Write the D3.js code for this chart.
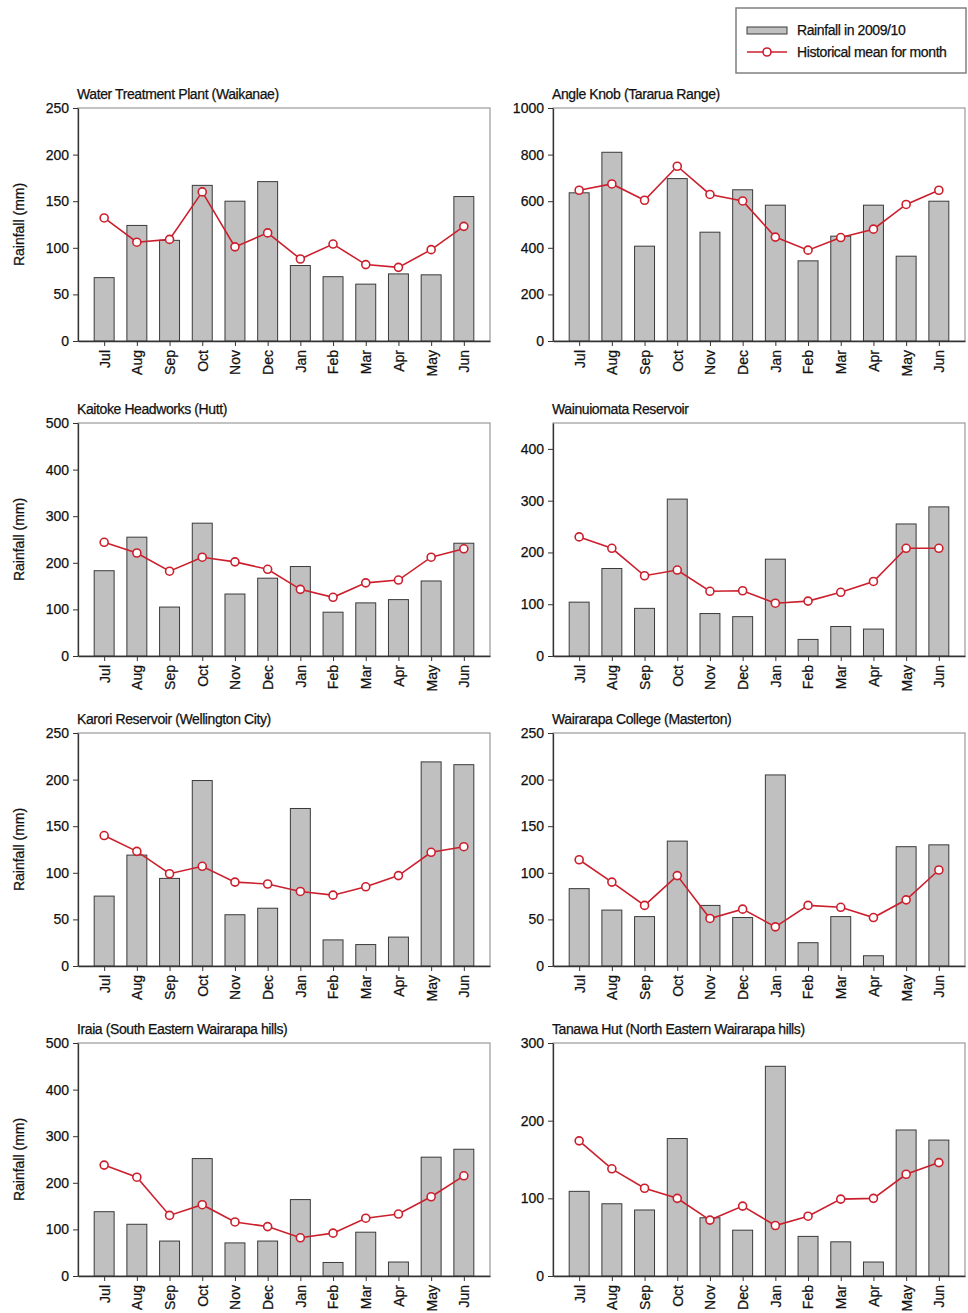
<!DOCTYPE html>
<html>
<head>
<meta charset="utf-8">
<script src="https://cdn.jsdelivr.net/npm/d3@7"></script>
<style>
  body { margin: 0; background: #fff; }
  text { font-family: "Liberation Sans", Arial, sans-serif; fill: #111; stroke: #111; stroke-width: 0.25px; }
</style>
</head>
<body>
<div id="chart"></div>
<script>
var months = ["Jul", "Aug", "Sep", "Oct", "Nov", "Dec", "Jan", "Feb", "Mar", "Apr", "May", "Jun"];

var stations = [
    "Water Treatment Plant (Waikanae)",
    "Angle Knob (Tararua Range)",
    "Kaitoke Headworks (Hutt)",
    "Wainuiomata Reservoir",
    "Karori Reservoir (Wellington City)",
    "Wairarapa College (Masterton)",
    "Iraia (South Eastern Wairarapa hills)",
    "Tanawa Hut (North Eastern Wairarapa hills)"
];

// y axis top and tick step for each panel
var yMax  = [250, 1000, 500, 450, 250, 250, 500, 300];
var yStep = [50, 200, 100, 100, 50, 50, 100, 100];

// Rainfall in 2009/10 (mm)
var rainWaikanae    = [68, 124, 108, 167, 150, 171, 81, 69, 61, 72, 71, 155];
var rainAngleKnob   = [636, 810, 407, 697, 467, 649, 583, 344, 450, 583, 364, 600];
var rainKaitoke     = [183, 255, 105, 285, 133, 167, 192, 94, 114, 121, 161, 242];
var rainWainuiomata = [104, 169, 92, 303, 82, 76, 187, 32, 57, 52, 255, 288];
var rainKarori      = [75, 119, 94, 199, 55, 62, 169, 28, 23, 31, 219, 216];
var rainMasterton   = [83, 60, 53, 134, 65, 52, 205, 25, 53, 11, 128, 130];
var rainIraia       = [138, 111, 75, 252, 71, 75, 164, 29, 94, 30, 255, 272];
var rainTanawa      = [109, 93, 85, 177, 75, 59, 270, 51, 44, 18, 188, 175];

// Historical mean for month (mm)
var meanWaikanae    = [132, 106, 109, 160, 101, 116, 88, 104, 82, 79, 98, 123];
var meanAngleKnob   = [647, 674, 604, 750, 629, 601, 446, 390, 444, 480, 586, 647];
var meanKaitoke     = [244, 221, 182, 212, 202, 186, 143, 126, 157, 163, 212, 230];
var meanWainuiomata = [230, 208, 155, 166, 125, 126, 102, 106, 123, 144, 208, 208];
var meanKarori      = [140, 123, 99, 107, 90, 88, 80, 76, 85, 97, 122, 128];
var meanMasterton   = [114, 90, 65, 97, 51, 61, 42, 65, 63, 52, 71, 103];
var meanIraia       = [238, 212, 130, 153, 116, 106, 82, 92, 124, 133, 170, 215];
var meanTanawa      = [174, 138, 113, 100, 72, 90, 65, 77, 99, 100, 131, 146];

var rainfall = [rainWaikanae, rainAngleKnob, rainKaitoke, rainWainuiomata,
                rainKarori, rainMasterton, rainIraia, rainTanawa];
var means = [meanWaikanae, meanAngleKnob, meanKaitoke, meanWainuiomata,
             meanKarori, meanMasterton, meanIraia, meanTanawa];

var width = 968, height = 1313;
var colLeft = [78, 553];
var rowTop = [108, 423, 733, 1043];
var plotW = 412, plotH = 233;

var barColor = "#c0c0c0",
    lineColor = "#cc1f2d";

var svg = d3.select("#chart").append("svg")
    .attr("width", width)
    .attr("height", height);

var x = d3.scalePoint()
    .domain(months)
    .range([0, plotW])
    .padding(0.8);

var barW = x.step() * 0.61;

stations.forEach(function(name, k)
{
    var left = colLeft[k % 2],
        top = rowTop[Math.floor(k / 2)];

    var y = d3.scaleLinear()
        .domain([0, yMax[k]])
        .range([plotH, 0]);

    var ticks = d3.range(0, yMax[k] + 1, yStep[k]);

    var g = svg.append("g")
        .attr("transform", "translate(" + left + "," + top + ")");

    // frame
    g.append("rect")
        .attr("width", plotW)
        .attr("height", plotH)
        .attr("fill", "none")
        .attr("stroke", "#9a9a9a")
        .attr("stroke-width", 1.2);

    g.append("text")
        .attr("x", -1)
        .attr("y", -9)
        .style("font-size", "14px")
        .style("letter-spacing", "-0.4px")
        .text(name);

    // bars
    g.selectAll(".bar")
        .data(rainfall[k])
        .enter().append("rect")
        .attr("class", "bar")
        .attr("x", function(d, i) { return x(months[i]) - barW / 2; })
        .attr("y", function(d) { return y(d); })
        .attr("width", barW)
        .attr("height", function(d) { return plotH - y(d); })
        .attr("fill", barColor)
        .attr("stroke", "#3a3a3a")
        .attr("stroke-width", 1);

    // axes
    var yAxis = g.append("g")
        .call(d3.axisLeft(y).tickValues(ticks).tickFormat(d3.format("d"))
            .tickSize(5).tickSizeOuter(0).tickPadding(4));

    var xAxis = g.append("g")
        .attr("transform", "translate(0," + plotH + ")")
        .call(d3.axisBottom(x).tickSize(5).tickSizeOuter(0).tickPadding(6));

    [yAxis, xAxis].forEach(function(a)
    {
        a.select(".domain").attr("stroke", "#333").attr("stroke-width", 1.3);
        a.selectAll(".tick line").attr("stroke", "#333");
        a.selectAll("text")
            .style("font-size", "14px")
            .style("font-family", "'Liberation Sans', Arial, sans-serif")
            .attr("fill", "#111");
    });

    xAxis.selectAll(".tick text")
        .attr("transform", "rotate(-90)")
        .attr("text-anchor", "end")
        .attr("x", -9)
        .attr("y", 0)
        .attr("dy", "0.35em");

    // historical mean
    var meanLine = d3.line()
        .x(function(d, i) { return x(months[i]); })
        .y(function(d) { return y(d); });

    g.append("path")
        .datum(means[k])
        .attr("d", meanLine)
        .attr("fill", "none")
        .attr("stroke", lineColor)
        .attr("stroke-width", 1.6);

    g.selectAll(".dot")
        .data(means[k])
        .enter().append("circle")
        .attr("class", "dot")
        .attr("cx", function(d, i) { return x(months[i]); })
        .attr("cy", function(d) { return y(d); })
        .attr("r", 4)
        .attr("fill", "#fff")
        .attr("stroke", lineColor)
        .attr("stroke-width", 1.6);

    if (k % 2 == 0)
    {
        g.append("text")
            .attr("transform", "translate(" + (-59) + "," + (plotH / 2) + ") rotate(-90)")
            .attr("text-anchor", "middle")
            .attr("dy", "0.35em")
            .style("font-size", "14px")
            .text("Rainfall (mm)");
    }
});

// legend
var legend = svg.append("g")
    .attr("transform", "translate(736,8)");

legend.append("rect")
    .attr("width", 230)
    .attr("height", 65)
    .attr("fill", "#fff")
    .attr("stroke", "#808080")
    .attr("stroke-width", 1.5);

legend.append("rect")
    .attr("x", 11)
    .attr("y", 19)
    .attr("width", 40)
    .attr("height", 7)
    .attr("fill", barColor)
    .attr("stroke", "#3a3a3a");

legend.append("line")
    .attr("x1", 11).attr("x2", 51)
    .attr("y1", 44).attr("y2", 44)
    .attr("stroke", lineColor)
    .attr("stroke-width", 1.6);

legend.append("circle")
    .attr("cx", 31)
    .attr("cy", 44)
    .attr("r", 4)
    .attr("fill", "#fff")
    .attr("stroke", lineColor)
    .attr("stroke-width", 1.6);

legend.selectAll(".ltext")
    .data(["Rainfall in 2009/10", "Historical mean for month"])
    .enter().append("text")
    .attr("class", "ltext")
    .attr("x", 61)
    .attr("y", function(d, i) { return 22 + i * 22; })
    .attr("dy", "0.35em")
    .style("font-size", "14px")
    .style("letter-spacing", "-0.4px")
    .text(function(d) { return d; });
</script>
</body>
</html>
